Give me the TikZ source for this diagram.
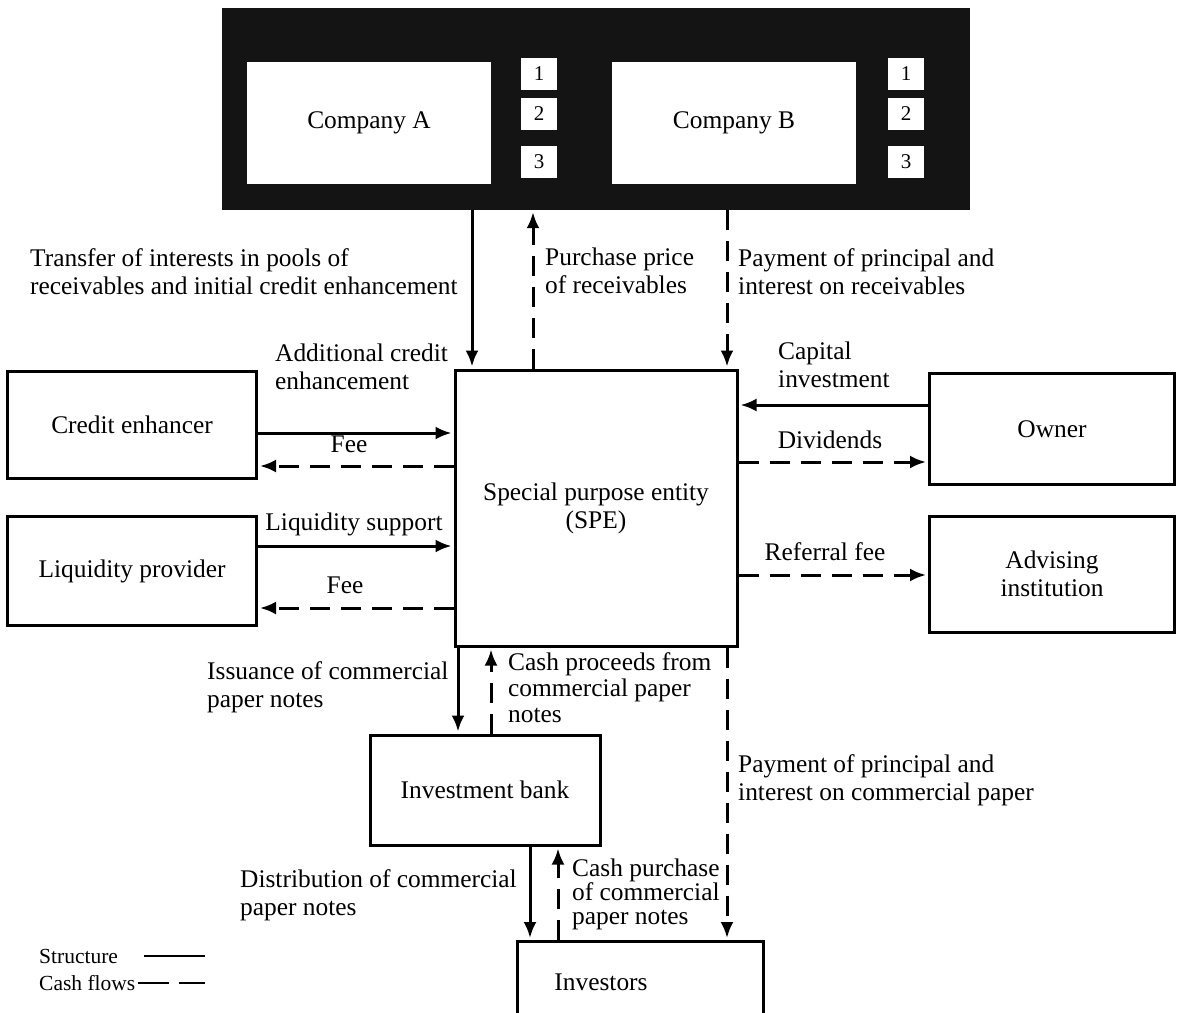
\documentclass[tikz,border=0pt]{standalone}
\usepackage{fontspec}
\setmainfont{Liberation Serif}
\usetikzlibrary{arrows.meta}

\newcommand{\lblfont}{\fontsize{25.4}{28}\selectfont}
\newcommand{\boxfont}{\fontsize{25.4}{28}\selectfont}

\begin{document}
\begin{tikzpicture}[x=1pt,y=-1pt,
  box/.style={draw,line width=3pt,fill=white,inner sep=0,align=center,font=\boxfont},
  numbox/.style={fill=white,inner sep=0,minimum width=36,minimum height=32,font=\fontsize{21}{24}\selectfont},
  lbl/.style={inner sep=0,align=left,font=\lblfont},
  struct/.style={line width=3pt,shorten >=2pt,-{Latex[length=16pt,width=13pt]}},
  cash/.style={struct,dash pattern=on 20pt off 11pt}]

  \clip (0,0) rectangle (1182,1012);
  \fill[white] (0,0) rectangle (1182,1012);

  % ------------------- companies ----------------------
  \node[fill=black!92,inner sep=0,minimum width=748,minimum height=202] (firms) at (596,109) {};
  \node[box,draw=none,minimum width=244,minimum height=122] (compa) at (369,123) {Company A};
  \node[box,draw=none,minimum width=244,minimum height=122] (compb) at (734,123) {Company B};
  \foreach \i/\y in {1/74,2/114,3/162} {
    \node[numbox] (a\i) at (539,\y) {\i};
    \node[numbox] (b\i) at (906,\y) {\i};
  }

  % ------------------- boxes ----------------------
  \node[box,minimum width=282,minimum height=276] (spe) at (596,508) {Special purpose entity\\(SPE)};
  \node[box,minimum width=249,minimum height=107] (cred) at (132,425) {Credit enhancer};
  \node[box,minimum width=249,minimum height=109] (liq) at (132,571) {Liquidity provider};
  \node[box,minimum width=245,minimum height=111] (owner) at (1052,429) {Owner};
  \node[box,minimum width=245,minimum height=116] (advis) at (1052,574) {Advising\\institution};
  \node[box,minimum width=230,minimum height=110] (bank) at (485,790) {Investment bank};
  \node[box,minimum width=246,minimum height=140,anchor=north] (inv) at (640,940) {};
  \node[font=\boxfont,inner sep=0] (invtxt) at (601,982) {Investors};

  % ------------------- tracks ----------------------
  \coordinate (xa) at (472,0);
  \coordinate (xb) at (533,0);
  \coordinate (xc) at (727,0);
  \coordinate (xd) at (458,0);
  \coordinate (xe) at (491,0);
  \coordinate (xf) at (530,0);
  \coordinate (xg) at (558,0);
  \coordinate (ya) at (0,433);
  \coordinate (yb) at (0,466);
  \coordinate (yc) at (0,546);
  \coordinate (yd) at (0,608);
  \coordinate (ye) at (0,405);
  \coordinate (yf) at (0,462);
  \coordinate (yg) at (0,575);

  % ------------------- flows ----------------------
  \draw[struct] (firms.south -| xa) -- (spe.north -| xa);
  \draw[cash] (spe.north -| xb) -- (firms.south -| xb);
  \draw[cash] (firms.south -| xc) -- (spe.north -| xc);

  \draw[struct] (cred.east |- ya) -- (spe.west |- ya);
  \draw[cash] (spe.west |- yb) -- (cred.east |- yb);
  \draw[struct] (liq.east |- yc) -- (spe.west |- yc);
  \draw[cash] (spe.west |- yd) -- (liq.east |- yd);

  \draw[struct] (owner.west |- ye) -- (spe.east |- ye);
  \draw[cash] (spe.east |- yf) -- (owner.west |- yf);
  \draw[cash] (spe.east |- yg) -- (advis.west |- yg);

  \draw[struct] (spe.south -| xd) -- (bank.north -| xd);
  \draw[cash] (bank.north -| xe) -- (spe.south -| xe);
  \draw[cash] (spe.south -| xc) -- (inv.north -| xc);
  \draw[struct] (bank.south -| xf) -- (inv.north -| xf);
  \draw[cash] (inv.north -| xg) -- (bank.south -| xg);

  % ------------------- labels ----------------------
  \node[lbl,anchor=north west] (ltrans) at (30,248) {Transfer of interests in pools of\\receivables and initial credit enhancement};
  \node[lbl,anchor=north west] (lprice) at (545,248) {Purchase price\\of receivables};
  \node[lbl,anchor=north west] (lpayrec) at (738,248) {Payment of principal and\\interest on receivables};
  \node[lbl,anchor=north west] (laddcr) at (275,344) {Additional credit\\enhancement};
  \node[lbl] (lfee1) at (349,444) {Fee};
  \node[lbl] (lliq) at (354,524) {Liquidity support};
  \node[lbl] (lfee2) at (345,585) {Fee};
  \node[lbl,anchor=north west] (lcap) at (778,342) {Capital\\investment};
  \node[lbl] (ldiv) at (830,440) {Dividends};
  \node[lbl] (lref) at (825,552) {Referral fee};
  \node[lbl,anchor=north west] (liss) at (207,661) {Issuance of commercial\\paper notes};
  \node[lbl,anchor=north west,font=\fontsize{25.4}{26}\selectfont] (lproc) at (508,652) {Cash proceeds from\\commercial paper\\notes};
  \node[lbl,anchor=north west] (lpaycp) at (738,754) {Payment of principal and\\interest on commercial paper};
  \node[lbl,anchor=north west] (ldist) at (240,869) {Distribution of commercial\\paper notes};
  \node[lbl,anchor=north west,font=\fontsize{25.4}{24}\selectfont] (lpurch) at (572,859) {Cash purchase\\of commercial\\paper notes};

  % ------------------- legend ----------------------
  \node[inner sep=0,anchor=west,font=\fontsize{21.5}{24}\selectfont] (lgs) at (39,956) {Structure};
  \node[inner sep=0,anchor=west,font=\fontsize{21.5}{24}\selectfont] (lgc) at (39,983) {Cash flows};
  \draw[line width=2.6pt] (lgs.east -| 144,0) -- ++(61,0);
  \draw[line width=2.6pt,dash pattern=on 31pt off 10pt] (lgc.east -| 138,0) -- ++(67,0);
\end{tikzpicture}
\end{document}
